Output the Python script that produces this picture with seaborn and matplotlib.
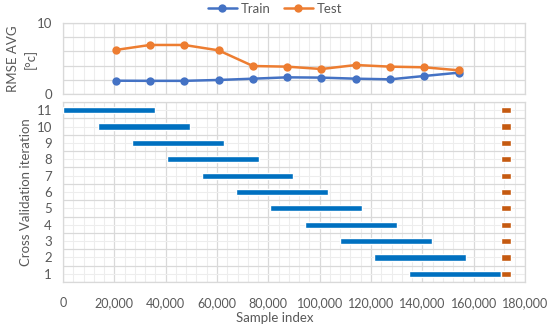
import numpy as np
import matplotlib
matplotlib.use("Agg")
import matplotlib.pyplot as plt
import seaborn as sns
import pandas as pd
from matplotlib.ticker import MultipleLocator, FuncFormatter

# datos
iteraciones = [11, 10, 9, 8, 7, 6, 5, 4, 3, 2, 1]
train_inicio = [0, 13470, 26900, 40400, 54000, 67400, 80800, 94400, 107800, 121300, 134800]
train_fin = [35700, 49300, 62800, 76200, 89800, 103200, 116600, 130100, 143600, 157200, 170600]
test_inicio = [170600] * 11
test_fin = [174500] * 11

rmse_x = [20500, 33900, 47200, 60600, 74000, 87400, 100700, 114100, 127500, 140800, 154200]
rmse_train = [1.90, 1.88, 1.88, 2.00, 2.18, 2.37, 2.33, 2.18, 2.09, 2.56, 3.02]
rmse_test = [6.19, 6.89, 6.89, 6.14, 3.95, 3.86, 3.53, 4.09, 3.86, 3.77, 3.35]

sns.set_theme(style="white")
plt.rcParams['font.family'] = ['Lato', 'DejaVu Sans']

gris = '#595959'
grid_mayor = '#D9D9D9'
grid_menor = '#EDEDED'

fig = plt.figure(figsize=(5.5, 3.27), dpi=100)
ax1 = fig.add_axes([63/550, 1 - 94.3/327, 462/550, 71.6/327])
ax2 = fig.add_axes([63/550, 1 - 282/327, 462/550, 180/327])

df = pd.DataFrame({
    'x': rmse_x * 2,
    'rmse': rmse_train + rmse_test,
    'serie': ['Train'] * len(rmse_x) + ['Test'] * len(rmse_x),
})
sns.lineplot(data=df, x='x', y='rmse', hue='serie', palette={'Train': '#4472C4', 'Test': '#ED7D31'},
             marker='o', markersize=6, markeredgewidth=0, linewidth=1.8, ax=ax1, zorder=3)

for ax in (ax1, ax2):
    ax.set_xlim(0, 180000)
    ax.xaxis.set_major_locator(MultipleLocator(20000))
    ax.xaxis.set_minor_locator(MultipleLocator(4000))
    ax.grid(which='major', axis='x', color=grid_mayor, linewidth=0.9)
    ax.grid(which='minor', axis='x', color=grid_menor, linewidth=0.8)
    for s in ax.spines.values():
        s.set_color(grid_mayor)
        s.set_linewidth(0.9)
    ax.set_axisbelow(True)
    ax.tick_params(which='both', length=0, colors=gris, labelsize=9)

ax1.set_ylim(0, 10)
ax1.yaxis.set_major_locator(MultipleLocator(10))
ax1.yaxis.set_minor_locator(MultipleLocator(2))
ax1.grid(which='minor', axis='y', color=grid_mayor, linewidth=0.9)
ax1.grid(which='major', axis='y', color=grid_mayor, linewidth=0.9)
ax1.set_xticklabels([])
ax1.set_xlabel('')
ax1.set_ylabel('RMSE AVG\n[°c]', color=gris, fontsize=9.5, linespacing=1.45)
ax1.yaxis.set_label_coords(-0.057, 0.5)
ax1.tick_params(axis='y', labelsize=9.5, pad=8)

h, l = ax1.get_legend_handles_labels()
ax1.get_legend().remove()
fig.legend(h, l, loc='upper center', bbox_to_anchor=(0.5, 1.028), ncol=2, frameon=False,
           fontsize=9.5, labelcolor=gris, handlelength=2.2, columnspacing=1.0, handletextpad=0.3)

# barras de entrenamiento y test
train_ancho = np.array(train_fin) - np.array(train_inicio)
test_ancho = np.array(test_fin) - np.array(test_inicio)
ax2.barh(iteraciones, train_ancho, left=train_inicio, height=0.38, color='#0070C0', zorder=3)
ax2.barh(iteraciones, test_ancho, left=test_inicio, height=0.38, color='#C55A11', zorder=3)

ax2.set_ylim(0.5, 11.5)
ax2.set_yticks(range(1, 12))
ax2.set_yticks(np.arange(0.5, 12, 1), minor=True)
ax2.grid(which='minor', axis='y', color=grid_mayor, linewidth=0.9)
ax2.grid(which='major', axis='y', color=grid_menor, linewidth=0.8)
ax2.xaxis.set_major_formatter(FuncFormatter(lambda v, p: f'{int(v):,}'))
ax2.tick_params(axis='x', pad=11)
ax2.tick_params(axis='y', labelsize=9.5, pad=8)
ax2.set_xlabel('Sample index', color=gris, fontsize=9.5)
ax2.xaxis.set_label_coords(0.459, -0.165)
ax2.set_ylabel('Cross Validation iteration', color=gris, fontsize=9.5)
ax2.yaxis.set_label_coords(-0.068, 0.5)

fig.savefig('out.png', dpi=100)
